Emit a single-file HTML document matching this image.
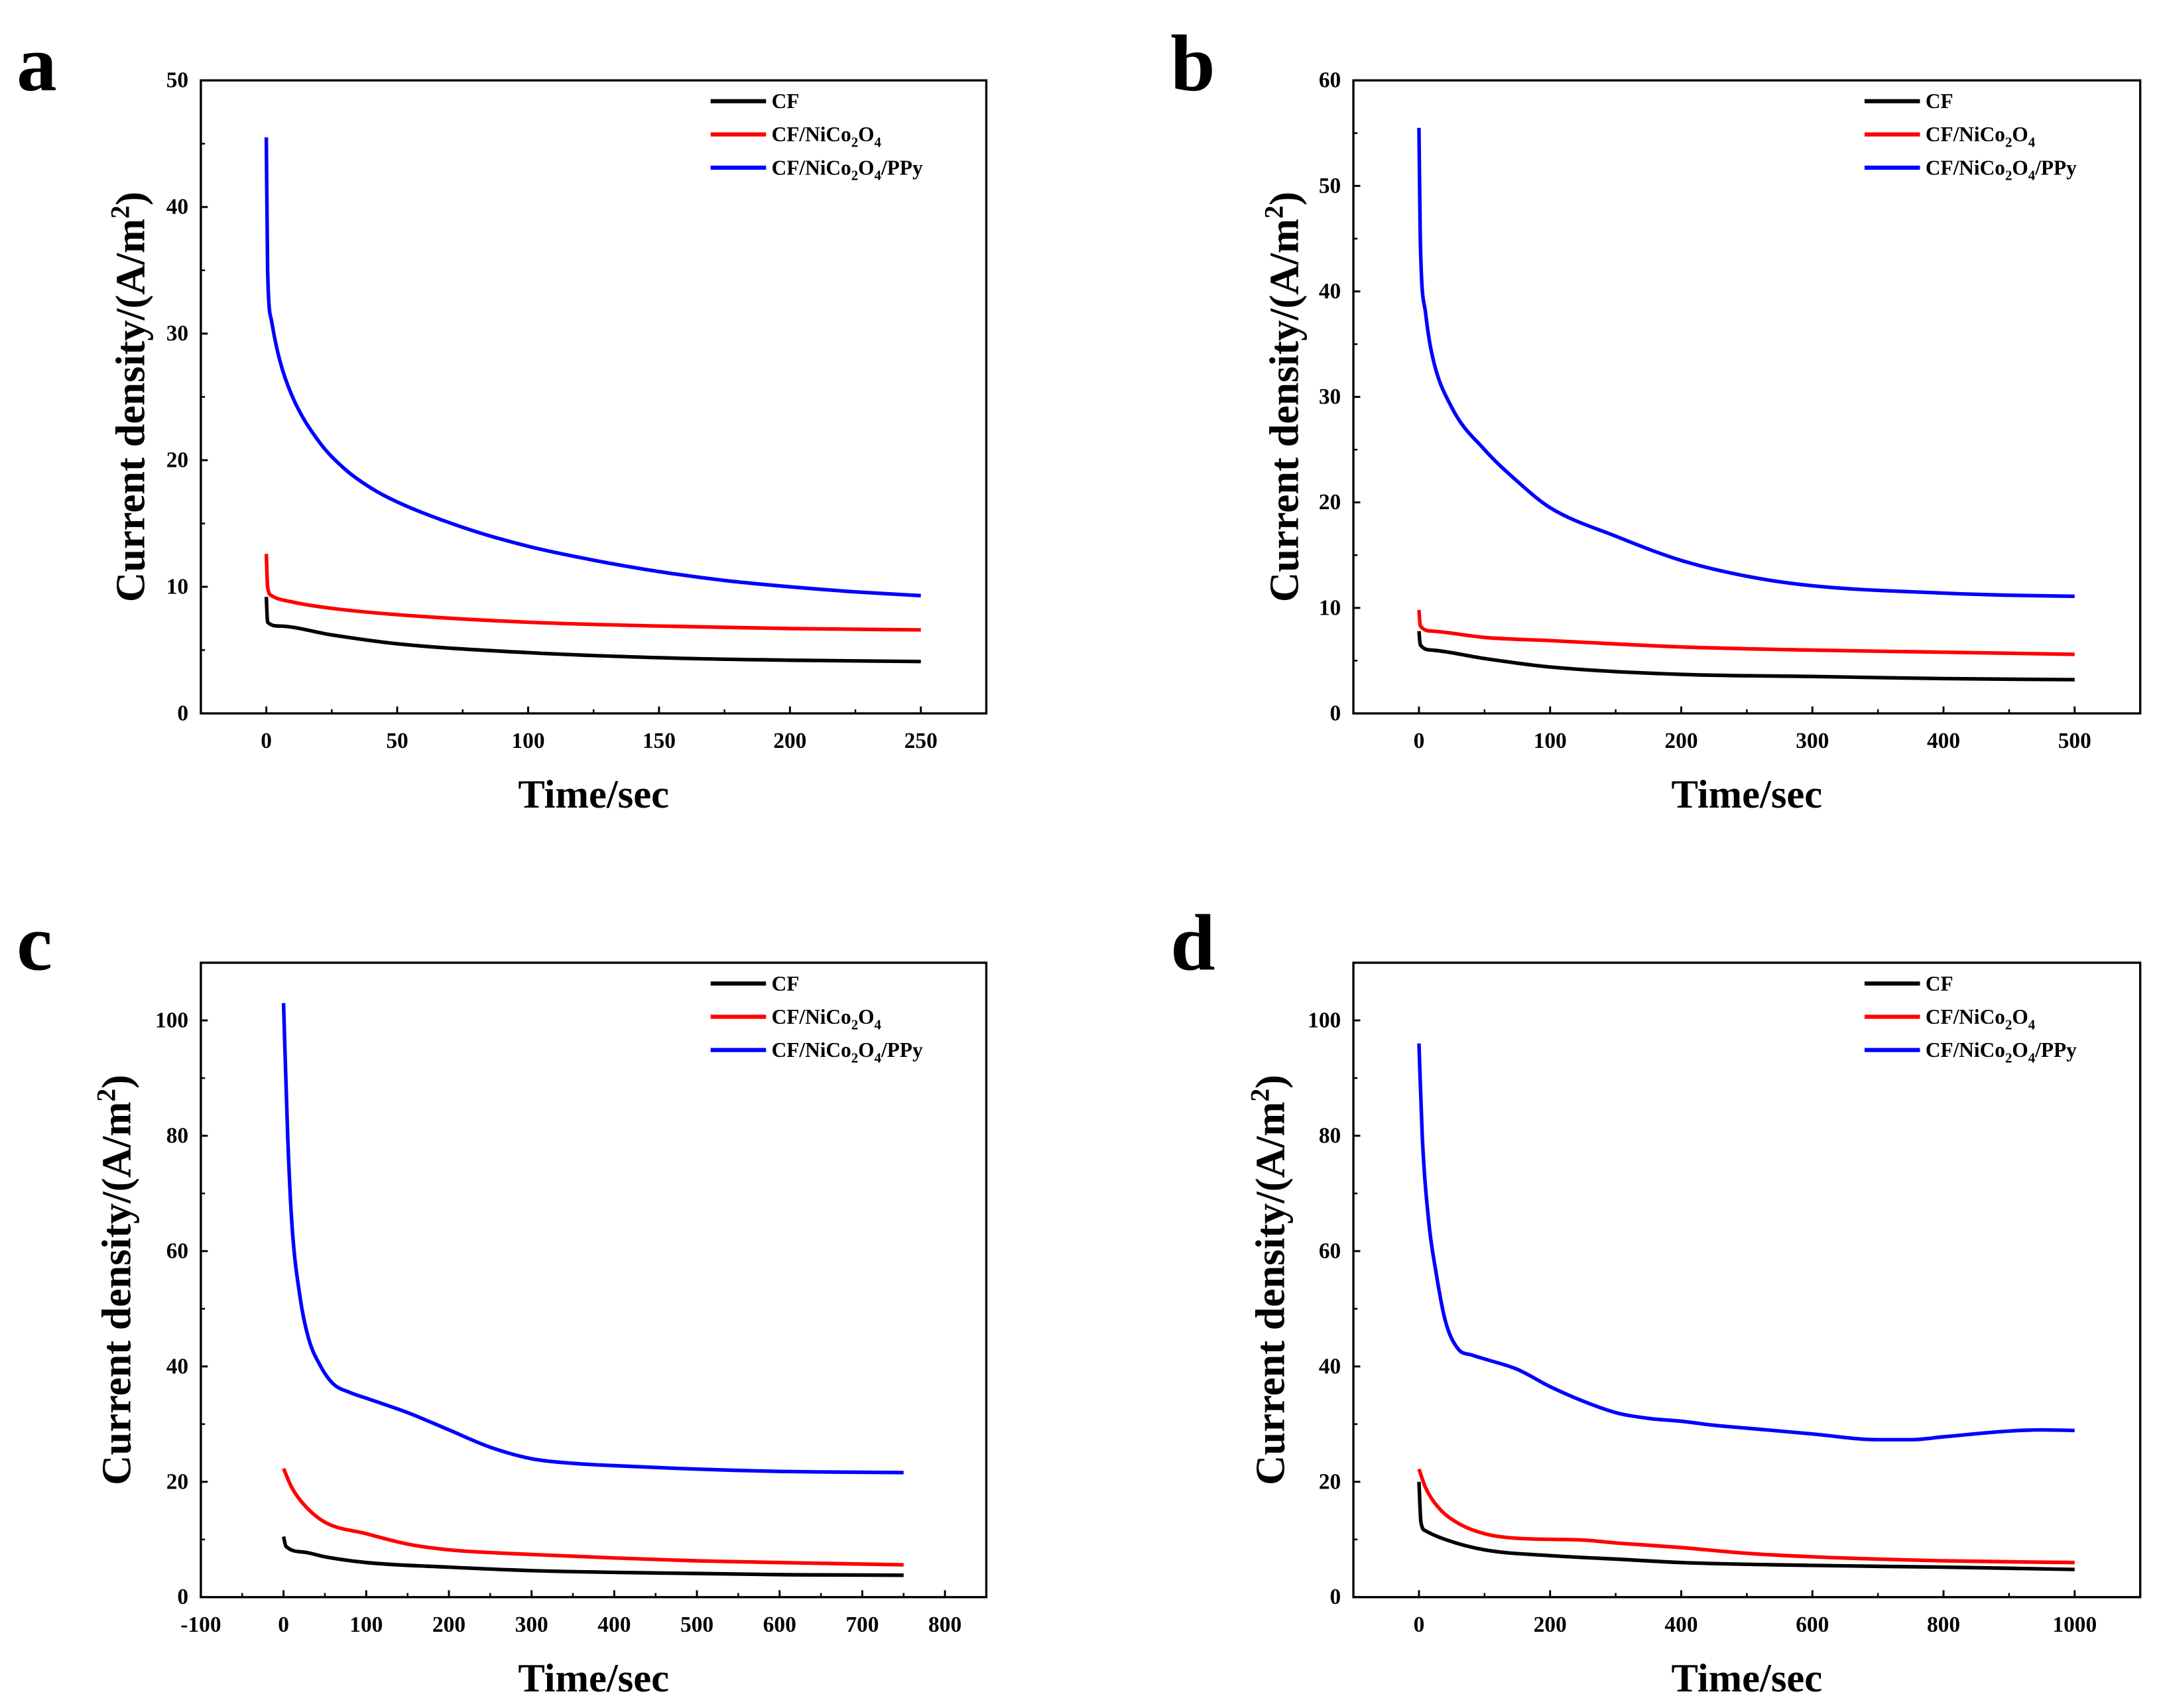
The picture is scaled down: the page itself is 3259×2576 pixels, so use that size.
<!DOCTYPE html>
<html><head><meta charset="utf-8"><style>
html,body{margin:0;padding:0;background:#fff}
svg{display:block}
text{font-family:"Liberation Serif",serif;font-weight:bold;fill:#000}
</style></head><body>
<svg id="fig" width="3259" height="2576" viewBox="0 0 1560 1233" xmlns="http://www.w3.org/2000/svg"></svg>
<script>
// Panel a
const aCF_t=[0,0.5,5,25,50,100,150,200,250];
const aCF_v=[9.2,7.2,6.9,6.2,5.5,4.8,4.4,4.2,4.1];
const aNi_t=[0,0.5,2,10,25,50,100,150,200,250];
const aNi_v=[12.6,10,9.3,8.8,8.3,7.8,7.2,6.9,6.7,6.6];
const aPP_t=[0,0.5,2,5,10,20,30,40,50,75,100,125,150,175,200,225,250];
const aPP_v=[45.5,35,31,28,25,21.5,19.3,17.8,16.7,14.7,13.2,12.1,11.2,10.5,10.0,9.6,9.3];
// Panel b
const bCF_t=[0,1,10,50,100,200,300,400,500];
const bCF_v=[7.8,6.5,6.0,5.2,4.4,3.7,3.5,3.3,3.2];
const bNi_t=[0,1,10,50,100,200,300,400,500];
const bNi_v=[9.8,8.3,7.8,7.2,6.9,6.3,6.0,5.8,5.6];
const bPP_t=[0,1,5,10,25,50,75,100,150,200,250,300,400,450,500];
const bPP_v=[55.5,45,38,34,29,25,22,19.5,16.8,14.5,13,12.1,11.4,11.2,11.1];
// Panel c
const cCF_t=[0,3,25,50,100,200,300,400,500,600,750];
const cCF_v=[10.5,8.8,7.8,7,6,5.2,4.6,4.3,4.1,3.9,3.8];
const cNi_t=[0,10,25,50,100,150,200,300,400,500,600,750];
const cNi_v=[22.3,19,16,13,11,9.2,8.2,7.4,6.8,6.3,6,5.6];
const cPP_t=[0,5,10,20,30,45,60,80,100,150,200,250,300,350,400,500,600,750];
const cPP_v=[103,80,65,52,45,40,37,35.5,34.5,32,29,26,24,23.2,22.8,22.2,21.8,21.6];
// Panel d
const dCF_t=[0,3,10,40,100,200,300,400,600,800,1000];
const dCF_v=[20,13,11.5,10,8.2,7.2,6.6,6,5.5,5.2,4.8];
const dNi_t=[0,10,30,60,100,150,250,300,400,500,600,800,1000];
const dNi_v=[22.2,19,15.5,12.8,11,10.2,9.9,9.4,8.6,7.6,7,6.3,6];
const dPP_t=[0,5,15,25,40,60,80,100,150,200,250,300,350,400,450,500,600,700,750,800,900,950,1000];
const dPP_v=[96,80,65,57,48,43,42,41.3,39.5,36.5,34,32,31,30.5,29.8,29.3,28.3,27.3,27.3,27.8,28.8,29,28.9];
// Ticks
const aXt=[0,50,100,150,200,250], aYt=[0,10,20,30,40,50];
const bXt=[0,100,200,300,400,500], bYt=[0,10,20,30,40,50,60];
const cXt=[-100,0,100,200,300,400,500,600,700,800], cYt=[0,20,40,60,80,100];
const dXt=[0,200,400,600,800,1000], dYt=[0,20,40,60,80,100];

const NS="http://www.w3.org/2000/svg";
const svg=document.getElementById('fig');
function mk(tag,attrs,parent){const e=document.createElementNS(NS,tag);for(const k in attrs)e.setAttribute(k,attrs[k]);(parent||svg).appendChild(e);return e;}

// monotone cubic path (Fritsch-Carlson) in screen coords
function monoPath(xs,ys){
  const n=xs.length;
  if(n<3)return 'M'+xs.map((x,i)=>x+','+ys[i]).join('L');
  const d=[],m=[];
  for(let i=0;i<n-1;i++)d.push((ys[i+1]-ys[i])/Math.max(1e-6,xs[i+1]-xs[i]));
  m[0]=d[0];m[n-1]=d[n-2];
  for(let i=1;i<n-1;i++)m[i]=(d[i-1]*d[i]<=0)?0:(d[i-1]+d[i])/2;
  for(let i=0;i<n-1;i++){
    if(d[i]===0){m[i]=0;m[i+1]=0;continue;}
    const a=m[i]/d[i],b=m[i+1]/d[i],s=a*a+b*b;
    if(s>9){const t=3/Math.sqrt(s);m[i]=t*a*d[i];m[i+1]=t*b*d[i];}
  }
  let p='M'+xs[0].toFixed(2)+','+ys[0].toFixed(2);
  for(let i=0;i<n-1;i++){
    const h=(xs[i+1]-xs[i])/3;
    p+=' C'+(xs[i]+h).toFixed(2)+','+(ys[i]+m[i]*h).toFixed(2)+' '+(xs[i+1]-h).toFixed(2)+','+(ys[i+1]-m[i+1]*h).toFixed(2)+' '+xs[i+1].toFixed(2)+','+ys[i+1].toFixed(2);
  }
  return p;
}

function panel(p){
  const g=mk('g',{});
  
  
  const X=v=>p.x0+(v-p.xmin)/(p.xmax-p.xmin)*(p.x1-p.x0);
  const Y=v=>p.y1-(v-p.ymin)/(p.ymax-p.ymin)*(p.y1-p.y0);
  const lbl=mk('text',{x:p.lx,y:p.ly,'font-size':58},g);lbl.textContent=p.id;
  
  
  const cols=['#000','#f00','#00f'];
  p.series.forEach((s,i)=>{
    const xs=s[0].map(X),ys=s[1].map(Y);
    const l=mk('path',{d:monoPath(xs,ys),fill:'none',stroke:cols[i],'stroke-width':2.6,'stroke-linejoin':'round'},g);
    
    
  });
  const fr=mk('rect',{x:p.x0,y:p.y0,width:p.x1-p.x0,height:p.y1-p.y0,fill:'none',stroke:'#000','stroke-width':1.6},g);
  
  
  const xs=p.xt[1]-p.xt[0];
  p.xt.forEach(v=>{
    mk('line',{x1:X(v),x2:X(v),y1:p.y1,y2:p.y1-5,stroke:'#000','stroke-width':1.4},g);
    const m=v+xs/2; if(m<p.xmax) mk('line',{x1:X(m),x2:X(m),y1:p.y1,y2:p.y1-3,stroke:'#000','stroke-width':1.2},g);
    const t=mk('text',{x:X(v),y:p.y1+25,'font-size':16,'text-anchor':'middle'},g);t.textContent=v;
    
    
  });
  const ys=p.yt[1]-p.yt[0];
  p.yt.forEach(v=>{
    mk('line',{x1:p.x0,x2:p.x0+5,y1:Y(v),y2:Y(v),stroke:'#000','stroke-width':1.4},g);
    const m=v+ys/2; if(m<p.ymax) mk('line',{x1:p.x0,x2:p.x0+3,y1:Y(m),y2:Y(m),stroke:'#000','stroke-width':1.2},g);
    const t=mk('text',{x:p.x0-9,y:Y(v)+5,'font-size':16,'text-anchor':'end'},g);t.textContent=v;
    
    
  });
  const xt=mk('text',{x:(p.x0+p.x1)/2,y:p.y1+68,'font-size':29,'text-anchor':'middle'},g);xt.textContent='Time/sec';
  
  
  const cy=(p.y0+p.y1)/2;
  const yt=mk('text',{x:p.ytx,y:cy,'font-size':30,'text-anchor':'middle',transform:`rotate(-90 ${p.ytx} ${cy})`},g);
  yt.innerHTML='Current density/(A/m<tspan dy="-11" font-size="19">2</tspan><tspan dy="11">)</tspan>';
  
  
  const names=['CF','CF/NiCo<tspan dy="4" font-size="10">2</tspan><tspan dy="-4">O</tspan><tspan dy="4" font-size="10">4</tspan>',
    'CF/NiCo<tspan dy="4" font-size="10">2</tspan><tspan dy="-4">O</tspan><tspan dy="4" font-size="10">4</tspan><tspan dy="-4">/PPy</tspan>'];
  names.forEach((n,i)=>{
    const yy=p.y0+15+i*24;
    const e=mk('g',{},g);
    
    
    mk('line',{x1:p.legx,x2:p.legx+40,y1:yy,y2:yy,stroke:cols[i],'stroke-width':3},e);
    const t=mk('text',{x:p.legx+44,y:yy+5,'font-size':15},e);t.innerHTML=n;
  });
}
panel({id:'a',lx:12,ly:65,x0:145,x1:712,y0:58,y1:515,xmin:-25,xmax:275,ymin:0,ymax:50,xt:aXt,yt:aYt,ytx:104,legx:513,
  series:[[aCF_t,aCF_v],[aNi_t,aNi_v],[aPP_t,aPP_v]]});
panel({id:'b',lx:845,ly:65,x0:977,x1:1545,y0:58,y1:515,xmin:-50,xmax:550,ymin:0,ymax:60,xt:bXt,yt:bYt,ytx:937,legx:1346,
  series:[[bCF_t,bCF_v],[bNi_t,bNi_v],[bPP_t,bPP_v]]});
panel({id:'c',lx:12,ly:700,x0:145,x1:712,y0:695,y1:1153,xmin:-100,xmax:850,ymin:0,ymax:110,xt:cXt,yt:cYt,ytx:94,legx:513,
  series:[[cCF_t,cCF_v],[cNi_t,cNi_v],[cPP_t,cPP_v]]});
panel({id:'d',lx:845,ly:700,x0:977,x1:1545,y0:695,y1:1153,xmin:-100,xmax:1100,ymin:0,ymax:110,xt:dXt,yt:dYt,ytx:927,legx:1346,
  series:[[dCF_t,dCF_v],[dNi_t,dNi_v],[dPP_t,dPP_v]]});
</script>
</body></html>
